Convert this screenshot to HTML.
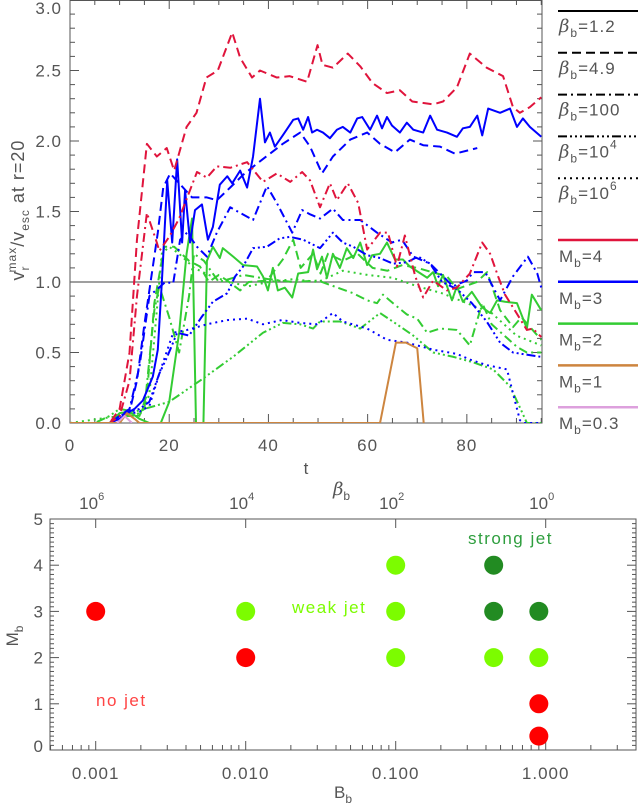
<!DOCTYPE html>
<html><head><meta charset="utf-8"><style>
html,body{margin:0;padding:0;background:#fff}
svg{display:block;font-family:"Liberation Sans",sans-serif}
text{fill:#555}
</style></head><body>
<svg id="s" width="638" height="807" viewBox="0 0 638 807">
<defs><clipPath id="cp"><rect x="70" y="0" width="472" height="423"/></clipPath></defs>
<g id="topchart"></g>
<g id="botchart"></g>
</svg>
<script>
// ===== top chart data =====
const tR49=[0,8,10,12,13.5,15.5,17.5,19.5,21,23.5,25.5,27.5,29.8,32.7,34.3,36.7,38.3,41.7,44.3,47.8,49.9,50.9,53,56,58.5,61,63.9,66.5,69,73.2,75.2,78,80.6,84,87.3,89.3,90.7,92.7,95];
const vR49=[0,0,0.1,0.5,1.3,1.98,1.89,1.95,1.79,2.1,2.2,2.45,2.5,2.77,2.59,2.45,2.5,2.45,2.46,2.42,2.68,2.54,2.52,2.62,2.53,2.41,2.34,2.36,2.28,2.26,2.28,2.38,2.62,2.52,2.46,2.24,2.2,2.24,2.31];
const tB12=[0,8,10,12,13,14.7,16.7,17.7,18.5,19.6,20.6,21.6,22.6,23.2,24.2,25.2,26.6,27.8,28.8,30.2,31.7,32.7,34.3,35.7,36.9,38.3,39.3,40.3,41.3,42.9,45,46,47,48,48.8,49.8,51,52.4,53.8,55,56.5,57.9,58.9,60.5,61.9,62.9,63.9,64.9,66.5,67.9,69.2,71.2,72.6,74,76,78,79.2,80.6,82.1,83.1,84.3,86.7,88.7,90.1,91.3,92.7,95];
const vB12=[0,0,0.03,0.08,0.1,0.16,0.33,0.52,0.99,1.72,1.28,1.87,1.28,1.65,1.28,1.51,1.55,1.3,1.39,1.69,1.75,1.7,1.79,1.67,1.89,2.3,1.99,2.06,1.96,2.04,2.15,2.16,2.08,2.17,2.06,2.08,2.06,2.02,2.08,2.1,2.06,2.16,2.17,2.08,2.18,2.09,2.17,2.11,2.06,2.13,2.08,2.06,2.18,2.08,2.06,2.03,2.09,2.1,2.18,2.04,2.23,2.2,2.23,2.1,2.16,2.1,2.03];
const tB49=[0,8,10,12,13.5,15,17.7,18.8,20.2,24.6,27.6,29.6,32.3,34.9,37.7,40.3,42.9,46.4,48.4,50.8,53,56.5,59.9,62.5,65.5,68.5,71.2,74.6,77.6,82.1];
const vB49=[0,0,0.05,0.08,0.3,0.7,1.35,1.67,1.77,1.6,1.6,1.58,1.67,1.76,1.84,1.91,1.98,2.06,1.96,1.77,1.89,2.01,2.06,1.98,1.92,2.01,1.97,1.96,1.91,1.95];
const tR100=[0,8,10,12,13.5,15.5,17.5,18,20,22,25.6,27.6,29.6,32.3,35.7,38.9,41.7,44.4,46.8,48.4,50.4,52.4,53.8,56,58.1,59.9,62.5,64.1,65.9,67.5,69.6,71.2,73.2,76,78,80.6,83.1,84.7,86.3,87.7,89.3,92.1,93.3,95];
const vR100=[0,0,0.05,0.3,0.9,1.49,1.28,1.22,1.32,1.45,1.78,1.74,1.82,1.81,1.85,1.71,1.77,1.71,1.78,1.72,1.53,1.7,1.58,1.7,1.56,1.23,1.35,1.35,1.11,1.33,1.04,0.89,1.01,0.94,0.96,1.06,1.28,1.2,1.04,0.91,0.82,0.66,0.67,0.61];
const tB100=[0,8,10,12,14,16,19.2,20.8,22.2,23.6,25.6,27.6,29.6,32.3,34.3,36.9,39.7,41.7,44.8,46.8,48.4,50.4,53,55,58.5,61.9,64.9,66.9,69.2,72.6,75.2,77.2,80,81.3,83.7,86.7,89.3,92.3,94.2,95];
const vB100=[0,0,0.05,0.1,0.4,0.9,1.0,0.99,1.3,1.35,1.25,1.18,1.35,1.53,1.49,1.44,1.68,1.56,1.35,1.51,1.48,1.45,1.52,1.44,1.44,1.35,1.28,1.3,1.18,1.13,1.04,0.97,1.01,1.07,1.07,0.87,1.04,1.18,1.06,0.96];
const tB1e4=[0,8,10,12,14,16,18,19.6,21.6,24,26.5,28.8,31.7,33.3,34.9,36.9,39.7,42.3,44.4,47,50.4,53,55,57.1,59.9,62.5,65.1,67.9,70.2,72.6,75,78,81,84,86.7,89.3,94.8];
const vB1e4=[0,0,0.05,0.08,0.1,0.15,0.35,0.47,0.64,0.62,0.75,0.86,0.92,1.04,1.11,1.24,1.25,1.31,1.32,1.3,1.24,1.35,1.28,1.25,1.19,1.17,1.13,1.14,1.18,1.13,1.0,0.95,0.85,0.72,0.57,0.5,0.47];
const tB1e6=[0,8,10,14,16,18,20.8,23.6,27.6,31.7,35.7,38.9,42.7,46.4,49.8,53,55,59.9,63.9,67.9,73.2,78,80.6,84.1,88.1,89.3,90.7,91.5,95];
const vB1e6=[0,0,0.05,0.08,0.12,0.35,0.64,0.66,0.7,0.73,0.74,0.7,0.73,0.71,0.7,0.78,0.72,0.67,0.59,0.57,0.52,0.49,0.45,0.41,0.38,0.21,0.02,0,0];
const tG12=[0,8,10,12,14,16,18.3,20,22,23.5,24.6,25.4,26.9,27.6,28.8,30.2,30.8,32.9,34.9,37.7,38.9,39.9,40.9,41.9,43.3,44.8,46,48,49,49.8,50.8,51.8,53,54.4,55.8,57.1,58.5,59.9,60.9,62.5,63.9,65.5,67.1,68.5,72,73.2,74.2,75.2,77,78,79.2,81,83.1,84.7,86.1,87.7,90.1,92.1,93.1,95];
const vG12=[0,0,0.07,0.08,0.03,0,0,0.15,0.64,1.2,1.45,0,0,1.15,1.25,1.17,1.24,1.18,1.12,1.11,1.04,0.94,1.1,0.94,0.96,0.89,1.06,1.07,1.23,1.09,1.18,1.03,1.2,1.1,1.24,1.17,1.28,1.12,1.19,1.2,1.28,1.16,1.16,1.11,1.03,1.07,0.97,1.05,0.87,0.97,0.86,0.93,0.82,0.78,0.87,0.86,0.85,0.67,0.91,0.8];
const tG49=[0,8,10,12,14,15.5,17,19,21,24,26.2,28,30,31.7,34.3,36,39.7,42.9,45,46.5,49,50.5,52,55,58,61,64,67,70,76,78,82,84.1,86.7,89.3,91,95];
const vG49=[0,0,0.05,0.07,0.05,0.2,0.85,1.25,1.25,1.15,1.11,1.0,1.05,1.01,0.94,1.0,1.01,1.16,1.3,1.1,1.2,1.06,1.2,1.15,1.2,1.1,1.08,1.12,1.1,1.04,0.95,1.0,1.07,0.8,0.68,0.75,0.59];
const tG100=[0,8,10,13,15,17,18,20,22,24,25,27,30,35,40,45,50,57.1,59.9,61.9,63.1,65.1,67.9,70,72,74.6,78,80.6,83.1,85,90.1,92.1,95];
const vG100=[0,0,0.05,0.05,0.1,0.8,0.97,0.75,0.5,0.9,1.2,1.15,1.0,1.05,1.02,1.0,1.01,0.92,0.87,0.85,0.91,0.85,0.77,0.74,0.64,0.67,0.66,0.55,0.85,0.7,0.54,0.5,0.5];
const tG1e4=[0,5,8,10,13,15,20,26.2,32.9,38.9,42.9,46.4,49,50.4,54.4,58.5,62.5,65.9,69.2,73.2,77.2,81.3,85.3,88.7,90.7,92.1,95];
const vG1e4=[0,0,0.05,0.1,0.08,0.1,0.15,0.3,0.47,0.64,0.71,0.7,0.67,0.72,0.72,0.67,0.78,0.7,0.62,0.5,0.47,0.43,0.38,0.26,0.11,0,0];
const tG1e6=[0,10,14,16,17.5,18.5,20,22,25,28,32,36,40,45,50,55,60,65,70,75,80,85,90,95];
const vG1e6=[0,0.05,0.05,0.2,0.8,1.2,1.25,1.2,1.1,1.05,1.0,0.97,1.0,1.02,1.0,1.08,1.05,1.03,0.97,0.92,0.85,0.78,0.62,0.55];
const tO=[0,10,11.5,13,14,62.5,65.7,67.7,70,71.3];
const vO=[0,0,0.07,0.03,0,0,0.57,0.57,0.53,0];
const tP=[9.5,11,12.5];
const vP=[0,0.05,0];
const xTicks=[0,20,40,60,80];
const yTicks=["0.0","0.5","1.0","1.5","2.0","2.5","3.0"];
const legendBeta=["1.2","4.9","100","10^4","10^6"];
const legendMach=["4","3","2","1","0.3"];
// ===== bottom chart data =====
const ptB=[0.001,0.01,0.01,0.1,0.1,0.1,0.45,0.45,0.45,0.9,0.9,0.9,0.9];
const ptM=[3,3,2,4,3,2,4,3,2,3,2,1,0.3];
const ptCls=["no","weak","no","weak","weak","weak","strong","strong","weak","strong","weak","no","no"];
const bTicks=["0.001","0.010","0.100","1.000"];
const betaTicks=["6","4","2","0"];
const mTicks=[0,1,2,3,4,5];

const NS="http://www.w3.org/2000/svg";
function mk(tag,attrs,parent){const e=document.createElementNS(NS,tag);for(const k in attrs)e.setAttribute(k,attrs[k]);parent.appendChild(e);return e;}
const topG=document.getElementById('topchart'), botG=document.getElementById('botchart');
const X0=70,X1=542,Y0=423,Y1=0,TMAX=95.15;
const sx=t=>X0+(t/TMAX)*(X1-X0);
const sy=v=>Y0-(v/3)*(Y0-Y1);
const RED="#e0143c",BLUE="#0000ff",GREEN="#33cc33",ORANGE="#cd853f",PINK="#dda0dd";
const DASH={s:"",d:"9,5",dd:"9,4,2,4",d3:"9,3,2,3,2,3,2,3",o:"2,4"};
const LS="letter-spacing:1px";
let fr=mk('rect',{x:X0,y:Y1+0.5,width:X1-X0,height:Y0-Y1-0.5,fill:"none",stroke:"#555","stroke-width":1},topG);


for(let t=0;t<=95;t+=5){const maj=t%20===0,L=maj?9:5;
 const a=mk('line',{x1:sx(t),x2:sx(t),y1:Y0,y2:Y0-L,stroke:"#555"},topG);
 
 
 const b=mk('line',{x1:sx(t),x2:sx(t),y1:Y1,y2:Y1+L,stroke:"#555"},topG);
 
 }
for(let i=0;i<=30;i++){const v=i/10,maj=i%5===0,L=maj?9:5;
 const a=mk('line',{x1:X0,x2:X0+L,y1:sy(v),y2:sy(v),stroke:"#555"},topG);
 
 
 const b=mk('line',{x1:X1,x2:X1-L,y1:sy(v),y2:sy(v),stroke:"#555"},topG);
 
 }
xTicks.forEach(t=>{const e=mk('text',{x:sx(t),y:451,"text-anchor":"middle","font-size":17,style:LS},topG);e.textContent=t;
 
 });
yTicks.forEach(s=>{const v=parseFloat(s);const e=mk('text',{x:62,y:Math.max(sy(v)+6,14),"text-anchor":"end","font-size":17,style:LS},topG);e.textContent=s;
 
 });
let xt=mk('text',{x:306,y:474,"text-anchor":"middle","font-size":17},topG);xt.textContent="t";


let yt=mk('text',{transform:"translate(24,210) rotate(-90)","text-anchor":"middle","font-size":18,style:LS},topG);


yt.innerHTML='v<tspan font-size="12" dy="5">r</tspan><tspan font-size="12" dx="-7" dy="-13">max</tspan><tspan dy="8">/v</tspan><tspan font-size="12" dy="5">esc</tspan><tspan dy="-5"> at r=20</tspan>';
let hl=mk('line',{x1:X0,x2:X1,y1:sy(1),y2:sy(1),stroke:"#666","stroke-width":1.2},topG);


const g=mk('g',{"clip-path":"url(#cp)"},topG);


function series(ts,vs,col,dash,name){const p=mk('polyline',{points:ts.map((t,i)=>sx(t)+","+sy(vs[i])).join(" "),fill:"none",stroke:col,"stroke-width":2,"stroke-dasharray":dash,"stroke-linejoin":"round"},g);
 
 }
series(tG1e6,vG1e6,GREEN,DASH.o,'line-m2-beta1e6');
series(tG1e4,vG1e4,GREEN,DASH.d3,'line-m2-beta1e4');
series(tG100,vG100,GREEN,DASH.dd,'line-m2-beta100');
series(tG49,vG49,GREEN,DASH.d,'line-m2-beta4.9');
series(tG12,vG12,GREEN,DASH.s,'line-m2-beta1.2');
series(tB1e6,vB1e6,BLUE,DASH.o,'line-m3-beta1e6');
series(tB1e4,vB1e4,BLUE,DASH.d3,'line-m3-beta1e4');
series(tB100,vB100,BLUE,DASH.dd,'line-m3-beta100');
series(tB49,vB49,BLUE,DASH.d,'line-m3-beta4.9');
series(tB12,vB12,BLUE,DASH.s,'line-m3-beta1.2');
series(tR100,vR100,RED,DASH.dd,'line-m4-beta100');
series(tR49,vR49,RED,DASH.d,'line-m4-beta4.9');
series(tO,vO,ORANGE,DASH.s,'line-m1');
series(tP,vP,PINK,DASH.s,'line-m0.3');
const dashes=[DASH.s,DASH.d,DASH.dd,DASH.d3,DASH.o];
legendBeta.forEach((s,i)=>{const y=11+i*41.8;
 const l=mk('line',{x1:558,x2:638,y1:y,y2:y,stroke:"#000","stroke-width":2,"stroke-dasharray":dashes[i]},topG);
 
 
 const t=mk('text',{x:559,y:y+21,"font-size":17,style:LS},topG);
 
 
 const parts=s.split('^');t.innerHTML='<tspan font-style="italic" font-family="DejaVu Serif" font-size="18">β</tspan><tspan font-size="12" dy="5">b</tspan><tspan dy="-5">=</tspan>'+parts[0]+(parts[1]?'<tspan font-size="12" dy="-9">'+parts[1]+'</tspan>':'');});
const mcols=[RED,BLUE,GREEN,ORANGE,PINK];
legendMach.forEach((s,i)=>{const y=240+i*41.8;
 const l=mk('line',{x1:558,x2:638,y1:y,y2:y,stroke:mcols[i],"stroke-width":2.5},topG);
 
 
 const t=mk('text',{x:559,y:y+22,"font-size":17,style:LS},topG);
 
 
 t.innerHTML='M<tspan font-size="12" dy="5">b</tspan><tspan dy="-5">='+s+'</tspan>';});

// ===== bottom chart =====
const BX0=50,BX1=636,BY0=750,BY1=519;
const bx=b=>545.7+Math.log10(b)*150;
const by=m=>BY0-m*(BY0-BY1)/5;
let bf=mk('rect',{x:BX0,y:BY1,width:BX1-BX0,height:BY0-BY1,fill:"none",stroke:"#555"},botG);


for(let d=-4;d<=0;d++){for(let k=1;k<=9;k++){const v=k*Math.pow(10,d),x=bx(v);if(x<BX0||x>BX1)continue;
 const L=k===1?9:5;const a=mk('line',{x1:x,x2:x,y1:BY0,y2:BY0-L,stroke:"#555"},botG);
 
 
 if(k===1){const b=mk('line',{x1:x,x2:x,y1:BY1,y2:BY1+9,stroke:"#555"},botG);
 
 }}}
for(let i=0;i<=50;i++){const m=i/10,L=i%10===0?9:4;
 const a=mk('line',{x1:BX0,x2:BX0+L,y1:by(m),y2:by(m),stroke:"#555"},botG);
 
 
 const b=mk('line',{x1:BX1,x2:BX1-L,y1:by(m),y2:by(m),stroke:"#555"},botG);
 
 }
bTicks.forEach(s=>{const e=mk('text',{x:bx(parseFloat(s)),y:779,"text-anchor":"middle","font-size":17,style:LS},botG);e.textContent=s;
 
 });
betaTicks.forEach((s,i)=>{const e=mk('text',{x:bx(Math.pow(10,-3+i))-4,y:509,"text-anchor":"middle","font-size":17},botG);e.innerHTML='10<tspan font-size="11" dy="-9">'+s+'</tspan>';
 
 });
mTicks.forEach(m=>{const e=mk('text',{x:43,y:Math.min(by(m)+6,752),"text-anchor":"end","font-size":17},botG);e.textContent=m;
 
 });
let bt=mk('text',{x:334,y:798,"font-size":17},botG);bt.innerHTML='B<tspan font-size="12" dy="5">b</tspan>';


let btt=mk('text',{x:333,y:495,"font-size":17},botG);btt.innerHTML='<tspan font-style="italic" font-family="DejaVu Serif" font-size="18">β</tspan><tspan font-size="12" dy="5">b</tspan>';


let mt=mk('text',{transform:"translate(18,636) rotate(-90)","text-anchor":"middle","font-size":17},botG);mt.innerHTML='M<tspan font-size="12" dy="5">b</tspan>';


const CC={no:"#ff0000",weak:"#7cfc00",strong:"#228b22"};
ptB.forEach((b,i)=>{const c=mk('circle',{cx:bx(b),cy:by(ptM[i]),r:9.5,fill:CC[ptCls[i]]},botG);
 
 });
[["no jet",96,706,"#ff4444"],["weak jet",292,613,"#7cfc00"],["strong jet",468,544,"#2e9e3e"]].forEach(a=>{const e=mk('text',{x:a[1],y:a[2],"font-size":17,style:"fill:"+a[3]+";letter-spacing:1.5px"},botG);e.textContent=a[0];
 
 });
</script>
</body></html>
